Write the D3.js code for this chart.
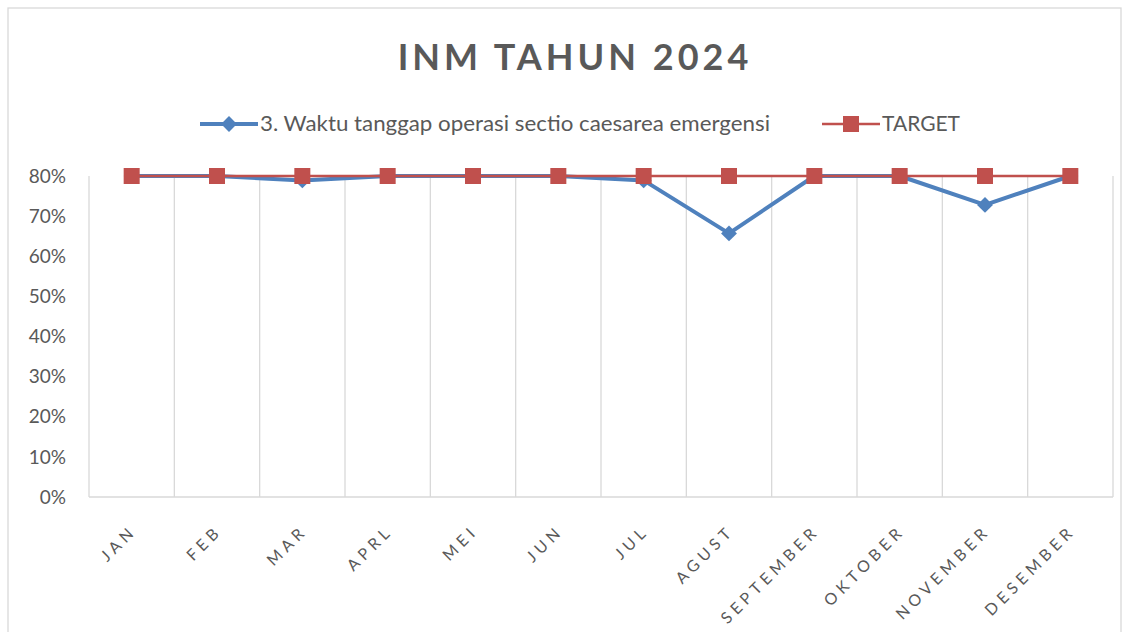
<html>
<script src="https://d3js.org/d3.v7.min.js"></script>
<style>
  body { margin: 0; background: white; }
  text { font-family: Lato, "Open Sans", sans-serif; fill: #595959; }
</style>
<body>
<svg id="chart" width="1131" height="632"></svg>
<script>
var months = ["JAN", "FEB", "MAR", "APRL", "MEI", "JUN", "JUL", "AGUST", "SEPTEMBER", "OKTOBER", "NOVEMBER", "DESEMBER"];
var waktuTanggap = [0.80, 0.80, 0.789, 0.80, 0.80, 0.80, 0.789, 0.657, 0.80, 0.80, 0.728, 0.80];
var target = [0.80, 0.80, 0.80, 0.80, 0.80, 0.80, 0.80, 0.80, 0.80, 0.80, 0.80, 0.80];
var yTicks = [0, 0.1, 0.2, 0.3, 0.4, 0.5, 0.6, 0.7, 0.8];
var seriesNames = ["3. Waktu tanggap operasi sectio caesarea emergensi", "TARGET"];

var svg = d3.select("#chart");

// chart border
svg.append("rect")
  .attr("x", 8).attr("y", 8).attr("width", 1113).attr("height", 640)
  .attr("fill", "white").attr("stroke", "#d9d9d9").attr("stroke-width", 1.3);

var plotL = 89, plotR = 1113, plotT = 176, plotB = 497;

var x = d3.scaleBand().domain(months).range([plotL, plotR]);
var y = d3.scaleLinear().domain([0, 0.8]).range([plotB, plotT]);

// vertical category gridlines
var gridX = months.map(function(m){ return x(m); }).concat([plotR]);
svg.append("g").selectAll("line")
  .data(gridX).enter().append("line")
  .attr("x1", function(d){ return d; }).attr("x2", function(d){ return d; })
  .attr("y1", plotT).attr("y2", plotB)
  .attr("stroke", "#d9d9d9").attr("stroke-width", 1.3);

// x axis line
svg.append("line")
  .attr("x1", plotL).attr("x2", plotR).attr("y1", plotB).attr("y2", plotB)
  .attr("stroke", "#d9d9d9").attr("stroke-width", 1.3);

// y labels
svg.append("g").selectAll("text")
  .data(yTicks).enter().append("text")
  .attr("x", 66).attr("y", function(d){ return y(d); })
  .attr("dy", "0.35em")
  .attr("text-anchor", "end")
  .style("font-size", "19px")
  .text(d3.format(".0%"));

// x labels
svg.append("g").selectAll("text")
  .data(months).enter().append("text")
  .attr("text-anchor", "end")
  .style("font-size", "16px")
  .style("letter-spacing", "4.5px")
  .attr("transform", function(d){
    var cx = x(d) + x.bandwidth() / 2;
    return "translate(" + (cx + 6) + "," + 532 + ") rotate(-45)";
  })
  .text(function(d){ return d; });

var cx = function(d, i){ return x(months[i]) + x.bandwidth() / 2; };
var line = d3.line().x(cx).y(function(d){ return y(d); });

// series line
svg.append("path").datum(waktuTanggap)
  .attr("d", line).attr("fill", "none")
  .attr("stroke", "#4f81bd").attr("stroke-width", 4).attr("stroke-linejoin", "round");

var diamond = d3.symbol().type(d3.symbolDiamond2).size(160);
svg.append("g").selectAll("path")
  .data(waktuTanggap).enter().append("path")
  .attr("d", diamond)
  .attr("transform", function(d, i){ return "translate(" + cx(d, i) + "," + y(d) + ")"; })
  .attr("fill", "#4f81bd");

// target line
svg.append("path").datum(target)
  .attr("d", line).attr("fill", "none")
  .attr("stroke", "#c0504d").attr("stroke-width", 2.5);

svg.append("g").selectAll("rect")
  .data(target).enter().append("rect")
  .attr("x", function(d, i){ return cx(d, i) - 8; })
  .attr("y", function(d){ return y(d) - 8; })
  .attr("width", 16).attr("height", 16)
  .attr("fill", "#c0504d");

// title
svg.append("text")
  .attr("x", 575).attr("y", 70)
  .attr("text-anchor", "middle")
  .style("font-size", "36px").style("font-weight", "bold")
  .style("letter-spacing", "4px")
  .text("INM TAHUN 2024");

// legend
var lg = svg.append("g");
lg.append("line").attr("x1", 200).attr("x2", 258).attr("y1", 124).attr("y2", 124)
  .attr("stroke", "#4f81bd").attr("stroke-width", 4);
lg.append("path").attr("d", diamond).attr("transform", "translate(229,124)").attr("fill", "#4f81bd");
lg.append("text").attr("x", 260).attr("y", 124).attr("dy", "0.35em")
  .style("font-size", "21px").attr("textLength", 510).attr("lengthAdjust", "spacingAndGlyphs")
  .text(seriesNames[0]);

lg.append("line").attr("x1", 822).attr("x2", 880).attr("y1", 124).attr("y2", 124)
  .attr("stroke", "#c0504d").attr("stroke-width", 2.5);
lg.append("rect").attr("x", 843).attr("y", 116).attr("width", 16).attr("height", 16).attr("fill", "#c0504d");
lg.append("text").attr("x", 882).attr("y", 124).attr("dy", "0.35em")
  .style("font-size", "21px").text(seriesNames[1]);
</script>
</body>
</html>
